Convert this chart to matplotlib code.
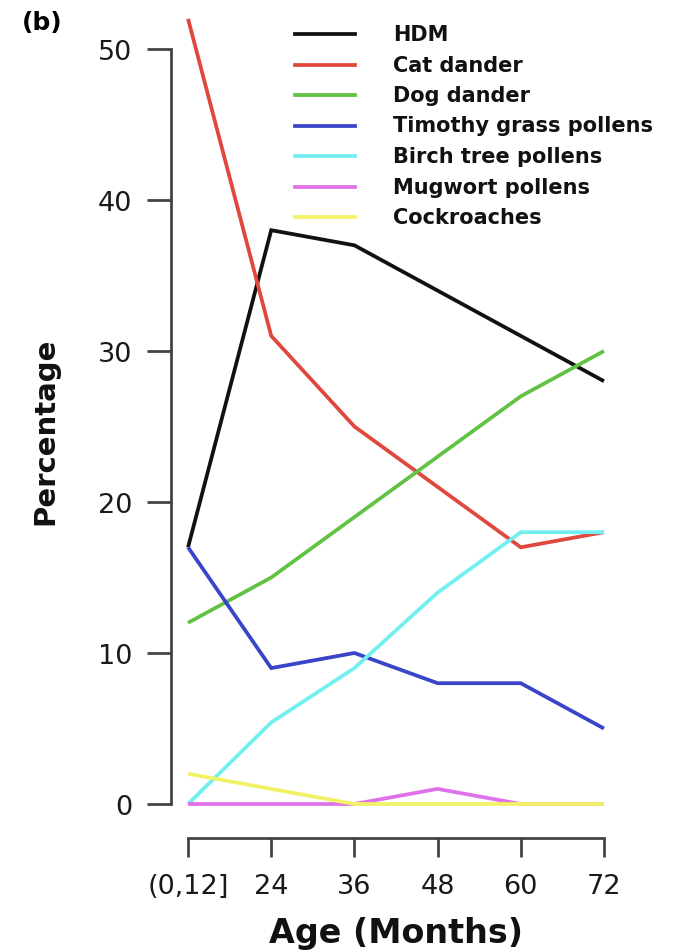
import matplotlib
matplotlib.use("Agg")
import matplotlib.pyplot as plt
from matplotlib.lines import Line2D

# percentage sensitised, by age group
ages = ["(0,12]", "24", "36", "48", "60", "72"]
hdm = [17, 38, 37, 34, 31, 28]
cat = [52, 31, 25, 21, 17, 18]
dog = [12, 15, 19, 23, 27, 30]
timothy = [17, 9, 10, 8, 8, 5]
birch = [0, 5.4, 9, 14, 18, 18]
mugwort = [0, 0, 0, 1, 0, 0]
cockroach = [2, 1, 0, 0, 0, 0]

names = ["HDM", "Cat dander", "Dog dander", "Timothy grass pollens",
         "Birch tree pollens", "Mugwort pollens", "Cockroaches"]
series = [hdm, cat, dog, timothy, birch, mugwort, cockroach]
colors = ["#111111", "#e0473d", "#62c244", "#3a44c8", "#72f0f0", "#df72ea", "#f2f266"]

plt.rcParams['font.family'] = ['DejaVu Sans']
W, H = 687, 953
fig = plt.figure(figsize=(W / 100, H / 100), dpi=100)

# plot region in pixels from the top-left (R style: 4% padding around data range)
x0, x1 = 171.4, 620.6
top_px, bot_px = -11.6, 836.4
ax = fig.add_axes([x0 / W, 1 - bot_px / H, (x1 - x0) / W, (bot_px - top_px) / H])

xs = list(range(1, len(ages) + 1))
for vals, col in zip(series, colors):
    ax.plot(xs, vals, color=col, lw=2.7, solid_capstyle='butt', solid_joinstyle='miter')

ax.set_xlim(0.8, 6.2)
ax.set_ylim(-2.08, 54.08)

for s in ("top", "right"):
    ax.spines[s].set_visible(False)
for s in ("left", "bottom"):
    ax.spines[s].set_color("#444444")
    ax.spines[s].set_linewidth(2)
ax.spines["left"].set_bounds(0, 50)
ax.spines["bottom"].set_bounds(1, 6)
ax.spines["bottom"].set_position(("outward", 2))

ax.set_xticks(xs)
ax.set_xticklabels(ages)
ax.set_yticks([0, 10, 20, 30, 40, 50])
ax.tick_params(axis="y", length=17, width=2, color="#444444", pad=11, labelsize=19.5, labelcolor="#1a1a1a")
ax.tick_params(axis="x", length=14, width=2, color="#444444", pad=11, labelsize=19.5, labelcolor="#1a1a1a")

ax.set_xlabel("Age (Months)", fontsize=24, fontweight="bold", labelpad=12, color="#111111")
fig.text(45 / W, 1 - 431 / H, "Percentage", rotation=90, ha="center", va="center",
         fontsize=21, fontweight="bold", color="#111111")
fig.text(42 / W, 1 - 23 / H, "(b)", ha="center", va="center", fontsize=18, fontweight="bold")

# legend drawn by hand, top right
for i, (name, col) in enumerate(zip(names, colors)):
    yy = 1 - (35 + 30.5 * i) / H
    fig.add_artist(Line2D([295 / W, 355 / W], [yy, yy], transform=fig.transFigure,
                          color=col, lw=2.7))
    fig.text(393 / W, yy, name, ha="left", va="center", fontsize=15,
             fontweight="bold", color="#111111")

fig.savefig("out.png", dpi=100)
